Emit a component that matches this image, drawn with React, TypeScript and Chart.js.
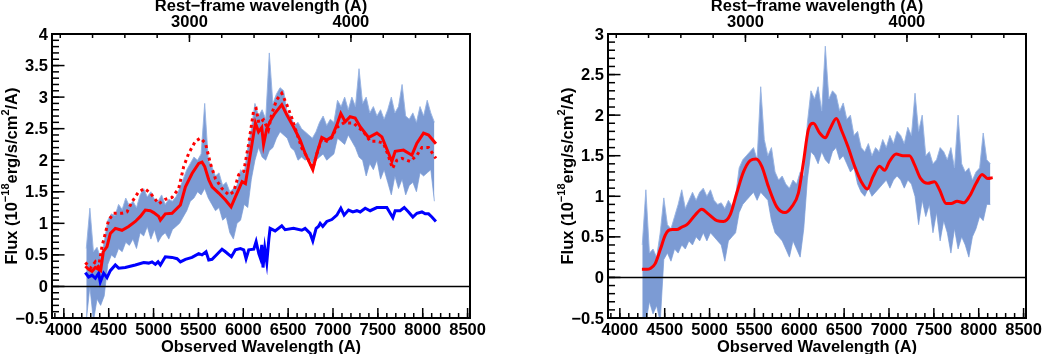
import React, { useEffect, useRef } from "react";
import { Chart, registerables } from "chart.js";

Chart.register(...registerables);

// ---------- axes ----------
const REDSHIFT = 0.8;
const X_MIN = 3868;
const X_MAX = 8527;
const xTicks = [4000, 4500, 5000, 5500, 6000, 6500, 7000, 7500, 8000, 8500];
const xTickLabels = ["4000", "4500", "5000", "5500", "6000", "6500", "7000", "7500", "8000", "8500"];
const restTicks = [3000, 4000];
const restTickLabels = ["3000", "4000"];
const leftYTicks = [-0.5, 0, 0.5, 1, 1.5, 2, 2.5, 3, 3.5, 4];
const leftYLabels = ["\u22120.5", "0", "0.5", "1", "1.5", "2", "2.5", "3", "3.5", "4"];
const rightYTicks = [-0.5, 0, 0.5, 1, 1.5, 2, 2.5, 3];
const rightYLabels = ["\u22120.5", "0", "0.5", "1", "1.5", "2", "2.5", "3"];
const xTitle = "Observed Wavelength (A)";
const topTitle = "Rest\u2212frame wavelength (A)";

// ---------- observed spectrum band (shared wavelength grid) ----------
const bandWave = [
  4250, 4290, 4330, 4370, 4410, 4450, 4490, 4530, 4570, 4610,
  4650, 4690, 4730, 4770, 4810, 4850, 4890, 4930, 4970, 5010,
  5050, 5090, 5130, 5170, 5210, 5250, 5290, 5330, 5370, 5410,
  5450, 5490, 5530, 5570, 5610, 5650, 5690, 5730, 5770, 5810,
  5850, 5890, 5930, 5970, 6010, 6050, 6090, 6130, 6170, 6210,
  6250, 6290, 6330, 6370, 6410, 6450, 6490, 6530, 6570, 6610,
  6650, 6690, 6730, 6770, 6810, 6850, 6890, 6930, 6970, 7010,
  7050, 7090, 7130, 7170, 7210, 7250, 7290, 7330, 7370, 7410,
  7450, 7490, 7530, 7570, 7610, 7650, 7690, 7730, 7770, 7810,
  7850, 7890, 7930, 7970, 8010, 8050, 8090, 8130,
];

const leftBandHi = [
  0.6, 1.24, 0.55, 0.62, 0.45, 0.7, 1.05, 1.15, 1.12, 1.3,
  1.22, 1.4, 1.28, 1.35, 1.25, 1.45, 1.55, 1.42, 1.5, 1.38,
  1.35, 1.45, 1.3, 1.38, 1.35, 1.42, 1.55, 1.7, 1.85, 1.95,
  2.05, 2.0, 2.1, 2.9, 2.0, 1.9, 1.75, 1.8, 1.6, 1.65,
  1.5, 1.55, 1.6, 1.85, 1.78, 2.2, 2.5, 2.9, 2.7, 2.8,
  2.65, 3.7, 2.9, 3.05, 3.15, 3.1, 2.75, 2.7, 2.55, 2.6,
  2.5, 2.45, 2.4, 2.35, 2.45, 2.6, 2.7, 2.55, 2.65, 2.6,
  2.95, 2.85, 3.0, 2.8, 3.0, 2.85, 3.45, 2.9, 3.0, 2.75,
  2.85, 2.7, 2.8, 2.65, 2.8, 3.0, 2.75, 2.85, 3.2, 2.7,
  2.65, 2.75, 2.6, 2.85, 2.7, 2.95, 2.75, 2.6,
];
const leftBandLo = [
  -0.55, 0.0, -0.55, -0.2, -0.3, -0.15, 0.35, 0.5, 0.45, 0.6,
  0.55, 0.7, 0.65, 0.75, 0.6, 0.85, 0.8, 0.95, 0.75, 0.9,
  0.7, 0.8, 0.85, 0.75, 0.9, 0.95, 1.0, 1.1, 1.2, 1.35,
  1.4, 1.5, 1.45, 1.55, 1.4, 1.3, 1.2, 1.25, 1.05, 1.1,
  0.85, 0.75, 1.0, 1.05, 1.3, 1.25, 1.7, 2.0, 2.2, 2.05,
  2.0, 2.15, 2.2, 2.35, 2.45, 2.4, 2.35, 2.2, 2.15, 2.0,
  2.05, 2.0, 2.05, 1.95, 2.0, 2.05, 2.1, 2.0, 2.05, 2.1,
  2.35, 2.3, 2.25, 2.4, 2.3, 2.2, 2.05, 2.0, 1.75, 1.95,
  1.85, 2.0, 1.7, 1.85, 1.65, 1.45, 1.75, 1.55, 1.7, 1.45,
  1.6, 1.65, 1.5, 1.8, 1.75, 1.8, 1.85, 1.35,
];

const rightBandHi = [
  0.4, 1.08, 0.3, 0.35, 0.25, 0.55, 0.98, 0.65, 0.6, 0.75,
  0.9, 1.08, 0.85, 0.95, 1.05, 0.95, 1.05, 1.1, 1.0, 1.08,
  0.95, 0.9, 0.92, 0.85, 0.95, 0.88, 1.0, 1.35, 1.45, 1.5,
  1.55, 1.6, 1.45, 2.35, 1.7, 1.5, 1.6, 1.3, 1.2, 1.25,
  1.15, 1.1, 1.2, 1.15, 1.3, 1.25, 1.9, 2.3, 2.2, 2.35,
  2.05, 2.85, 2.2, 2.3, 2.25, 2.05, 2.15, 1.95, 2.0, 1.75,
  1.8, 1.6, 1.55, 1.65, 1.5, 1.6, 1.55, 1.7, 1.6, 1.75,
  1.65, 1.8, 1.75, 1.65, 1.85, 1.75, 2.27, 1.8, 2.0, 1.5,
  1.55, 1.4, 1.45, 1.6, 1.55, 1.45, 1.6, 1.35, 2.0, 1.4,
  1.3, 1.35, 1.2, 1.3, 1.35, 1.78, 1.45, 1.4,
];
const rightBandLo = [
  -0.55, -0.55, -0.3, -0.45, -0.35, -0.55, 0.22, 0.3, 0.2, 0.35,
  0.3, 0.4, 0.35, 0.45, 0.4, 0.5, 0.45, 0.55, 0.45, 0.55,
  0.5, 0.45, 0.4, 0.2, 0.45, 0.5, 0.55, 0.8, 0.9, 0.95,
  1.0, 1.05, 0.95, 1.05, 1.0, 0.95, 0.7, 0.55, 0.5, 0.45,
  0.35, 0.25, 0.45, 0.35, 0.25, 0.6, 1.2, 1.55, 1.5, 1.4,
  1.55, 1.45, 1.4, 1.55, 1.6, 1.45, 1.5, 1.4, 1.3, 1.35,
  1.15, 1.05, 1.0, 1.1, 1.0, 1.05, 1.1, 1.15, 1.2, 1.1,
  1.2, 1.25, 1.2, 1.1, 1.2, 1.15, 1.0, 0.65, 0.95, 0.75,
  0.9, 0.55, 0.8, 0.45, 0.7, 0.55, 0.3, 0.6, 0.35, 0.5,
  0.4, 0.25, 0.5, 0.6, 0.75, 0.7, 0.9, 0.9,
];

// ---------- left panel model lines ----------
const leftFitWave = [
  4240, 4276, 4314, 4351, 4388, 4410, 4440, 4481, 4518, 4574, 4648, 4722, 4797, 4853, 4908, 4964,
  5001, 5057, 5076, 5131, 5206, 5299, 5355, 5429, 5503, 5540, 5570, 5615, 5652, 5726, 5801, 5864,
  5912, 5987, 6024, 6080, 6135, 6170, 6206, 6226, 6262, 6300, 6350, 6429, 6485, 6559, 6634, 6689,
  6775, 6820, 6875, 6931, 6987, 7043, 7087, 7136, 7191, 7247, 7303, 7396, 7489, 7545, 7619, 7656,
  7693, 7786, 7879, 7935, 8009, 8065, 8147,
];
const leftFitFlux = [
  0.32, 0.27, 0.24, 0.30, 0.27, 0.25, 0.55, 0.63, 0.84, 0.92, 0.89, 0.95, 1.03, 1.11, 1.21, 1.2,
  1.17, 1.11, 1.05, 1.15, 1.16, 1.29, 1.58, 1.79, 1.95, 1.97, 1.9, 1.69, 1.58, 1.48, 1.37, 1.26,
  1.42, 1.66, 1.63, 2.11, 2.59, 2.45, 2.52, 2.25, 2.5, 2.62, 2.74, 2.88, 2.72, 2.53, 2.32, 2.11,
  1.85, 2.11, 2.36, 2.32, 2.37, 2.56, 2.74, 2.61, 2.69, 2.67, 2.53, 2.36, 2.43, 2.37, 2.11, 1.98,
  2.14, 2.16, 2.08, 2.27, 2.43, 2.40, 2.26,
];

const leftAltWave = [
  4240, 4295, 4351, 4388, 4425, 4462, 4499, 4555, 4648, 4704, 4760, 4834, 4901, 4964, 5057, 5131,
  5206, 5280, 5336, 5392, 5466, 5522, 5578, 5633, 5689, 5763, 5838, 5893, 5949, 6005, 6061, 6117,
  6143, 6173, 6225, 6280, 6318, 6373, 6429, 6485, 6541, 6596, 6652, 6700, 6775, 6820, 6875, 6931,
  6987, 7043, 7117, 7228, 7340, 7414, 7489, 7563, 7619, 7663, 7712, 7768, 7861, 7935, 7991, 8065,
  8147,
];
const leftAltFlux = [
  0.38, 0.29, 0.39, 0.31, 0.63, 0.84, 1.05, 1.16, 1.16, 1.18, 1.34, 1.5, 1.55, 1.48, 1.31, 1.38,
  1.41, 1.55, 1.9, 2.11, 2.30, 2.35, 2.27, 1.95, 1.71, 1.55, 1.45, 1.5, 1.77, 1.82, 2.27, 2.8,
  2.82, 2.59, 2.64, 2.48, 2.74, 2.96, 3.06, 2.88, 2.67, 2.43, 2.19, 2.08, 1.87, 2.1, 2.34, 2.3,
  2.36, 2.52, 2.59, 2.59, 2.45, 2.30, 2.3, 2.27, 2.06, 1.87, 2.0, 2.03, 1.98, 2.08, 2.2, 2.2,
  2.03,
];

const leftHostWave = [
  4239, 4276, 4314, 4351, 4388, 4406, 4444, 4481, 4518, 4574, 4611, 4685, 4797, 4890, 4946, 4983,
  5020, 5050, 5076, 5131, 5206, 5262, 5299, 5355, 5429, 5503, 5540, 5585, 5615, 5652, 5708, 5763,
  5801, 5868, 5912, 5968, 6005, 6031, 6061, 6117, 6143, 6173, 6190, 6206, 6220, 6240, 6262, 6285,
  6299, 6355, 6429, 6466, 6559, 6652, 6689, 6745, 6775, 6812, 6838, 6857, 6886, 6931, 6987, 7043,
  7087, 7124, 7173, 7221, 7266, 7303, 7359, 7414, 7489, 7600, 7630, 7667, 7693, 7749, 7794, 7842,
  7890, 7935, 7991, 8028, 8065, 8102, 8147,
];
const leftHostFlux = [
  0.22, 0.15, 0.18, 0.13, 0.21, 0.07, 0.21, 0.14, 0.25, 0.34, 0.29, 0.30, 0.34, 0.38, 0.37, 0.39,
  0.35, 0.39, 0.34, 0.47, 0.46, 0.44, 0.39, 0.43, 0.46, 0.52, 0.50, 0.55, 0.42, 0.43, 0.51, 0.59,
  0.55, 0.47, 0.58, 0.60, 0.58, 0.44, 0.58, 0.59, 0.71, 0.52, 0.45, 0.66, 0.30, 0.6, 0.38, 0.75,
  0.92, 0.88, 0.96, 0.90, 0.92, 0.89, 0.92, 0.84, 0.72, 0.92, 0.95, 1.0, 0.95, 1.03, 1.06, 1.13,
  1.24, 1.13, 1.21, 1.18, 1.2, 1.18, 1.24, 1.2, 1.25, 1.25, 1.18, 1.09, 1.2, 1.2, 1.25, 1.18,
  1.1, 1.16, 1.18, 1.15, 1.15, 1.1, 1.03,
];

// ---------- right panel smooth model ----------
const rightFitWave = [
  4246, 4300, 4339, 4394, 4450, 4506, 4543, 4590, 4635, 4690, 4747, 4840, 4914, 4988, 5081, 5155,
  5229, 5303, 5378, 5452, 5519, 5582, 5656, 5749, 5841, 5915, 5990, 6045, 6101, 6157, 6227, 6290,
  6338, 6413, 6468, 6543, 6617, 6691, 6758, 6821, 6895, 6951, 7006, 7080, 7155, 7229, 7284, 7351,
  7433, 7507, 7563, 7637, 7693, 7759, 7834, 7897, 7971, 8038, 8101, 8156,
];
const rightFitFlux = [
  0.10, 0.10, 0.11, 0.17, 0.34, 0.52, 0.58, 0.59, 0.59, 0.62, 0.65, 0.77, 0.84, 0.78, 0.70, 0.69,
  0.77, 1.04, 1.30, 1.44, 1.46, 1.37, 1.12, 0.87, 0.80, 0.87, 1.04, 1.41, 1.82, 1.90, 1.78, 1.72,
  1.82, 1.96, 1.82, 1.61, 1.37, 1.18, 1.09, 1.24, 1.37, 1.32, 1.43, 1.52, 1.50, 1.50, 1.39, 1.22,
  1.16, 1.18, 1.08, 0.91, 0.91, 0.94, 0.92, 1.0, 1.16, 1.27, 1.22, 1.23,
];

// ---------- styling ----------
const FONT = '"Liberation Sans", Arial, Helvetica, sans-serif';
const BAND_COLOR = "rgb(124,155,212)";
const BAND_EDGE = "rgba(150,178,226,0.9)";

const pts = (xs: number[], ys: number[]) => xs.map((x, i) => ({ x, y: ys[i] }));

type PanelSpec = {
  yMin: number;
  yMax: number;
  yTicks: number[];
  yLabels: string[];
  padLeft: number;
  padRight: number;
  datasets: any[];
};

const rootAxes = {
  id: "rootAxes",
  afterDatasetsDraw(chart: any, _args: any, opts: any) {
    const { ctx, chartArea: a } = chart;
    const xs = chart.scales.x;
    const ys = chart.scales.y;
    const px = (v: number) => xs.getPixelForValue(v);
    const py = (v: number) => ys.getPixelForValue(v);
    const line = (x1: number, y1: number, x2: number, y2: number) => {
      ctx.beginPath();
      ctx.moveTo(x1, y1);
      ctx.lineTo(x2, y2);
      ctx.stroke();
    };
    ctx.save();
    ctx.strokeStyle = "#000";
    ctx.fillStyle = "#000";

    // zero line
    ctx.lineWidth = 1.5;
    line(a.left, py(0), a.right, py(0));

    // y ticks (inside)
    ctx.lineWidth = 1.5;
    const nMinor = Math.round((opts.yMax - opts.yMin) / 0.1);
    for (let i = 0; i <= nMinor; i++) {
      const y = py(opts.yMin + i * 0.1);
      line(a.left, y, a.left + 7, y);
    }
    opts.yTicks.forEach((v: number) => line(a.left, py(v), a.left + 12.5, py(v)));

    // bottom ticks
    for (let v = 3900; v <= 8500; v += 100) line(px(v), a.bottom, px(v), a.bottom - 5);
    xTicks.forEach((v) => line(px(v), a.bottom, px(v), a.bottom - 10));

    // top (rest-frame) ticks
    for (let r = 2200; r <= 4700; r += 200) {
      const x = px(r * (1 + REDSHIFT));
      if (x > a.left && x < a.right) line(x, a.top, x, a.top + 4);
    }
    restTicks.forEach((r) => {
      const x = px(r * (1 + REDSHIFT));
      line(x, a.top, x, a.top + 8);
    });

    // frame
    ctx.lineWidth = 2;
    ctx.strokeRect(a.left, a.top, a.right - a.left, a.bottom - a.top);

    // tick labels
    ctx.font = `bold 16.5px ${FONT}`;
    ctx.textAlign = "right";
    ctx.textBaseline = "middle";
    opts.yTicks.forEach((v: number, i: number) => ctx.fillText(opts.yLabels[i], a.left - 4, py(v) + 1));
    ctx.textAlign = "center";
    xTicks.forEach((v, i) => ctx.fillText(xTickLabels[i], px(v), a.bottom + 12));
    restTicks.forEach((r, i) => ctx.fillText(restTickLabels[i], px(r * (1 + REDSHIFT)), a.top - 11.5));

    // axis titles
    const cx = (a.left + a.right) / 2;
    ctx.fillText(xTitle, cx, a.bottom + 29);
    ctx.fillText(topTitle, cx, a.top - 28);

    // y title with superscripts
    const segs = [
      { t: "Flux (10", sup: false },
      { t: "\u221218", sup: true },
      { t: "erg/s/cm", sup: false },
      { t: "2", sup: true },
      { t: "/A)", sup: false },
    ];
    const mainFont = `bold 16.5px ${FONT}`;
    const supFont = `bold 11px ${FONT}`;
    let total = 0;
    const widths = segs.map((s) => {
      ctx.font = s.sup ? supFont : mainFont;
      const w = ctx.measureText(s.t).width;
      total += w;
      return w;
    });
    ctx.save();
    ctx.translate(a.left - 40, (a.top + a.bottom) / 2);
    ctx.rotate(-Math.PI / 2);
    ctx.textAlign = "left";
    ctx.textBaseline = "middle";
    let xpos = -total / 2;
    segs.forEach((s, i) => {
      ctx.font = s.sup ? supFont : mainFont;
      ctx.fillText(s.t, xpos, s.sup ? -6 : 0);
      xpos += widths[i];
    });
    ctx.restore();

    ctx.restore();
  },
};

function makeConfig(spec: PanelSpec): any {
  return {
    type: "line",
    data: { datasets: spec.datasets },
    options: {
      responsive: false,
      animation: false,
      devicePixelRatio: 1,
      layout: { padding: { left: spec.padLeft, right: spec.padRight, top: 34, bottom: 36 } },
      scales: {
        x: { type: "linear", min: X_MIN, max: X_MAX, display: false },
        y: { type: "linear", min: spec.yMin, max: spec.yMax, display: false },
      },
      elements: { point: { radius: 0, hoverRadius: 0 } },
      plugins: {
        legend: { display: false },
        tooltip: { enabled: false },
        rootAxes: { yMin: spec.yMin, yMax: spec.yMax, yTicks: spec.yTicks, yLabels: spec.yLabels },
      },
    },
    plugins: [rootAxes],
  };
}

function bandDatasets(hi: number[], lo: number[]) {
  return [
    {
      data: pts(bandWave, hi),
      borderColor: BAND_EDGE,
      borderWidth: 1,
      backgroundColor: BAND_COLOR,
      fill: "+1",
      tension: 0,
    },
    {
      data: pts(bandWave, lo),
      borderColor: BAND_EDGE,
      borderWidth: 1,
      fill: false,
      tension: 0,
    },
  ];
}

const leftSpec: PanelSpec = {
  yMin: -0.5,
  yMax: 4,
  yTicks: leftYTicks,
  yLabels: leftYLabels,
  padLeft: 52,
  padRight: 52,
  datasets: [
    { data: pts(leftFitWave, leftFitFlux), borderColor: "#ff0000", borderWidth: 3, fill: false, tension: 0 },
    {
      data: pts(leftAltWave, leftAltFlux),
      borderColor: "#ff0000",
      borderWidth: 3,
      borderDash: [3, 3.5],
      fill: false,
      tension: 0,
    },
    { data: pts(leftHostWave, leftHostFlux), borderColor: "#0000ff", borderWidth: 3, fill: false, tension: 0 },
    ...bandDatasets(leftBandHi, leftBandLo),
  ],
};

const rightSpec: PanelSpec = {
  yMin: -0.5,
  yMax: 3,
  yTicks: rightYTicks,
  yLabels: rightYLabels,
  padLeft: 86,
  padRight: 18,
  datasets: [
    {
      data: pts(rightFitWave, rightFitFlux),
      borderColor: "#ff0000",
      borderWidth: 3,
      fill: false,
      cubicInterpolationMode: "monotone",
    },
    ...bandDatasets(rightBandHi, rightBandLo),
  ],
};

function Panel({ spec, left }: { spec: PanelSpec; left: number }) {
  const ref = useRef<HTMLCanvasElement>(null);
  useEffect(() => {
    if (!ref.current) return;
    const chart = new Chart(ref.current, makeConfig(spec));
    return () => chart.destroy();
  }, [spec]);
  return (
    <canvas
      ref={ref}
      width={522}
      height={354}
      style={{ position: "absolute", left, top: 0, width: 522, height: 354 }}
    />
  );
}

export default function App() {
  return (
    <div
      style={{
        position: "fixed",
        left: 0,
        top: 0,
        width: 1044,
        height: 354,
        background: "#ffffff",
        overflow: "hidden",
      }}
    >
      <Panel spec={leftSpec} left={0} />
      <Panel spec={rightSpec} left={522} />
    </div>
  );
}
